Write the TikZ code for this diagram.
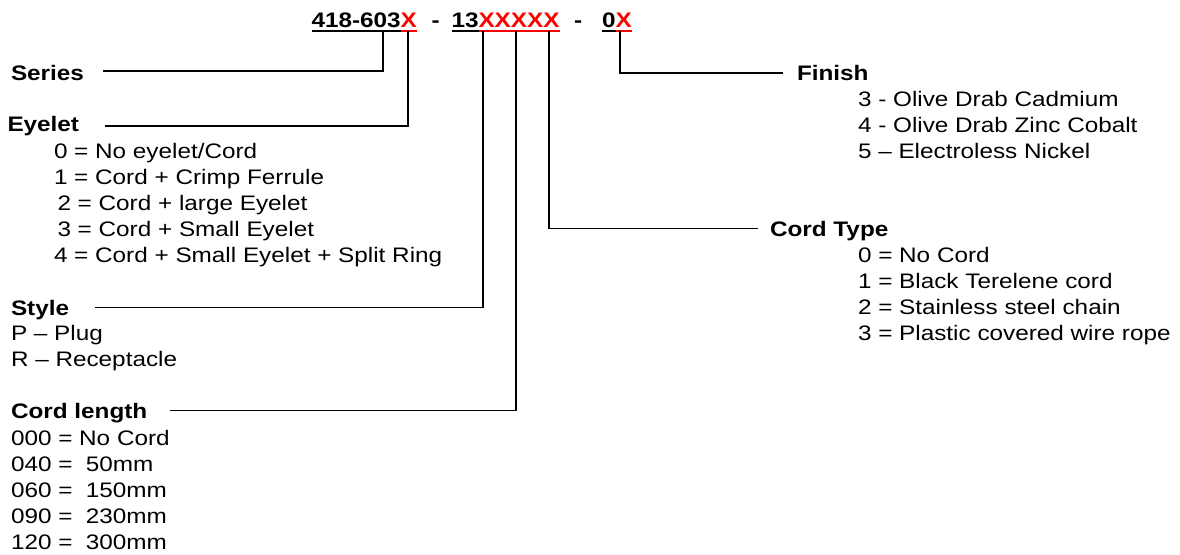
\documentclass[tikz,border=0pt]{standalone}
\usepackage{fontspec}
\setmainfont{Liberation Sans}[FakeStretch=1.157]
\begin{document}
\begin{tikzpicture}[x=1pt,y=-1pt,
  txt/.style={anchor=base west,inner sep=0pt,outer sep=0pt,font=\fontsize{21}{26}\selectfont},
  hd/.style={txt,font=\fontsize{21}{26}\selectfont\bfseries},
  redx/.style={hd,text=red},
  conn/.style={line width=1.4pt,black},
  uline/.style={line width=2pt}]
\useasboundingbox[fill=white] (0,0) rectangle (1180,554);
% header code
\node[hd] (h1) at (311.5,27.5) {418-603};
\node[redx] (h2) at (h1.base east) {X};
\node[hd] (d1) at (431.5,27.5) {-};
\node[hd] (h3) at (451.5,27.5) {13};
\node[redx] (h4) at (h3.base east) {XXXXX};
\node[hd] (d2) at (574,27.5) {-};
\node[hd] (h5) at (602,27.5) {0};
\node[redx] (h6) at (h5.base east) {X};
\draw[uline] (h1.base west |- 0,30.5) -- (h1.base east |- 0,30.5);
\draw[uline,red] (h2.base west |- 0,30.5) -- (h2.base east |- 0,30.5);
\draw[uline] (h3.base west |- 0,30.5) -- (h3.base east |- 0,30.5);
\draw[uline,red] (h4.base west |- 0,30.5) -- (h4.base east |- 0,30.5);
\draw[uline] (h5.base west |- 0,30.5) -- (h5.base east |- 0,30.5);
\draw[uline,red] (h6.base west |- 0,30.5) -- (h6.base east |- 0,30.5);
% labels left
\node[hd] (series) at (11,80.5) {Series};
\node[hd] (eyelet) at (7.5,131.5) {Eyelet};
\node[txt] (e0) at (54,158.5) {0 = No eyelet/Cord};
\node[txt] (e1) at (54,184.5) {1 = Cord + Crimp Ferrule};
\node[txt] (e2) at (57.5,210.5) {2 = Cord + large Eyelet};
\node[txt] (e3) at (57.5,236.5) {3 = Cord + Small Eyelet};
\node[txt] (e4) at (54,262.5) {4 = Cord + Small Eyelet + Split Ring};
\node[hd] (style) at (11,315) {Style};
\node[txt] (s1) at (11,340.5) {P – Plug};
\node[txt] (s2) at (11,366.5) {R – Receptacle};
\node[hd] (cordlen) at (11,418.5) {Cord length};
\node[txt] (l0) at (11,445) {000 = No Cord};
\node[txt] (l1) at (11,471) {040 = \ 50mm};
\node[txt] (l2) at (11,497) {060 = \ 150mm};
\node[txt] (l3) at (11,523) {090 = \ 230mm};
\node[txt] (l4) at (11,549) {120 = \ 300mm};
% labels right
\node[hd] (finish) at (797,80.5) {Finish};
\node[txt] (f0) at (858,106) {3 - Olive Drab Cadmium};
\node[txt] (f1) at (858,132) {4 - Olive Drab Zinc Cobalt};
\node[txt] (f2) at (858,158) {5 – Electroless Nickel};
\node[hd] (cordtype) at (770,236) {Cord Type};
\node[txt] (c0) at (858,262) {0 = No Cord};
\node[txt] (c1) at (858,288) {1 = Black Terelene cord};
\node[txt] (c2) at (858,314) {2 = Stainless steel chain};
\node[txt] (c3) at (858,340) {3 = Plastic covered wire rope};
% connector anchor points
\coordinate (u1) at (383,30.5);
\coordinate (u2) at (408,30.5);
\coordinate (u3) at (483,30.5);
\coordinate (u4) at (516,30.5);
\coordinate (u5) at (549,30.5);
\coordinate (u6) at (620,30.5);
\coordinate (seriesend) at (103,71);
\coordinate (eyeletend) at (105,126);
\coordinate (styleend) at (95,307.5);
\coordinate (cordlenend) at (170,410.5);
\coordinate (cordtypeend) at (758,228.5);
\coordinate (finishend) at (783,73);
\draw[conn] (u1) |- (seriesend);
\draw[conn] (u2) |- (eyeletend);
\draw[conn] (u3) |- (styleend);
\draw[conn] (u4) |- (cordlenend);
\draw[conn] (u5) |- (cordtypeend);
\draw[conn] (u6) |- (finishend);
\end{tikzpicture}
\end{document}
